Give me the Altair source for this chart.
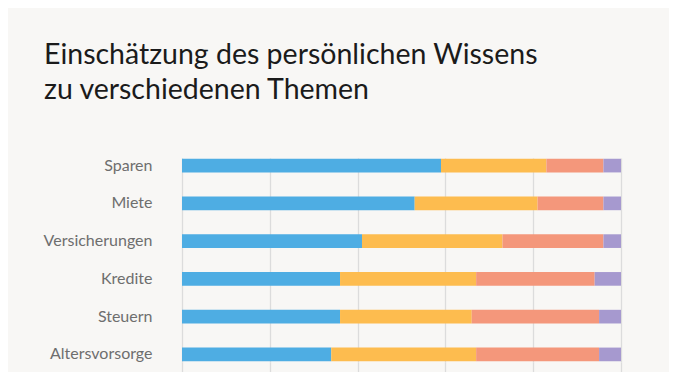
import altair as alt
import pandas as pd

themen = ["Sparen", "Miete", "Versicherungen", "Kredite", "Steuern", "Altersvorsorge"]
stufen = ["sehr gut", "eher gut", "eher schlecht", "sehr schlecht"]
sehr_gut = [59, 53, 41, 36, 36, 34]
eher_gut = [24, 28, 32, 31, 30, 33]
eher_schlecht = [13, 15, 23, 27, 29, 28]
sehr_schlecht = [4, 4, 4, 6, 5, 5]
farben = ["#4EADE3", "#FDBC4F", "#F4977B", "#A699CF"]

reihen = [sehr_gut, eher_gut, eher_schlecht, sehr_schlecht]
rows = []
for si, (stufe, werte) in enumerate(zip(stufen, reihen)):
    for t, v in zip(themen, werte):
        rows.append({"Thema": t, "Stufe": stufe, "Wert": v, "Ordnung": si})
df = pd.DataFrame(rows)

FONT = "Lato"

chart = alt.Chart(df).mark_bar().encode(
    y=alt.Y("Thema:N", sort=themen,
            scale=alt.Scale(paddingInner=0.638, paddingOuter=0.02),
            axis=alt.Axis(title=None, ticks=False, domain=False, labelFont=FONT,
                          labelFontSize=16, labelColor="#6e6e6e", labelPadding=30,
                          grid=False)),
    x=alt.X("Wert:Q", stack="zero", scale=alt.Scale(domain=[0, 100], nice=False),
            axis=alt.Axis(title=None, values=[0, 20, 40, 60, 80, 100], labels=False,
                          domain=False, grid=True, gridColor="#dcdcdc", gridWidth=1.3,
                          ticks=True, tickSize=40, tickColor="#dcdcdc", tickWidth=1.3)),
    color=alt.Color("Stufe:N", sort=stufen,
                    scale=alt.Scale(domain=stufen, range=farben), legend=None),
    order=alt.Order("Ordnung:Q"),
).properties(
    width=439,
    height=204,
    title=alt.TitleParams(
        text=["Einschätzung des persönlichen Wissens", "zu verschiedenen Themen"],
        font=FONT, fontSize=28.5, fontWeight="normal", color="#1b1b1b",
        lineHeight=35, anchor="start", frame="group", dx=-138, offset=53,
    ),
    autosize=alt.AutoSizeParams(type="none"),
    padding={"left": 174, "top": 150, "right": 48, "bottom": 10},
    background="#F8F7F5",
).configure_view(stroke=None)

chart.save("out.html", embed_options={"renderer": "svg", "actions": False})
